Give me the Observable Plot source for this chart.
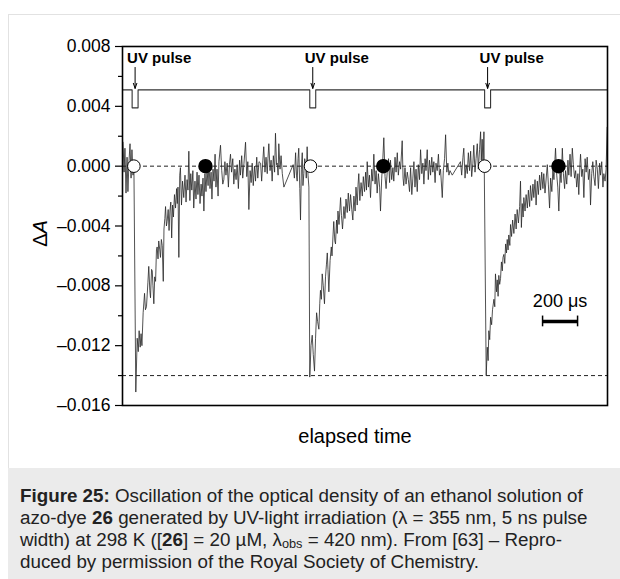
<!DOCTYPE html>
<html><head><meta charset="utf-8">
<script src="https://cdn.jsdelivr.net/npm/d3@7"></script>
<script src="https://cdn.jsdelivr.net/npm/@observablehq/plot@0.6"></script>
<style>
body{margin:0;background:#fff;font-family:"Liberation Sans",Arial,sans-serif;}
#wrap{position:relative;width:620px;height:579px;overflow:hidden;}
#border{position:absolute;left:8px;top:14px;width:612px;height:454px;border-left:1px solid #e2e2e2;border-top:1px solid #e2e2e2;box-sizing:border-box;}
#chart{position:absolute;left:0;top:0;}
#caption{position:absolute;left:8px;top:468px;width:612px;height:111px;background:#ebebeb;box-sizing:border-box;padding:17px 0 0 12px;font-size:18.8px;line-height:22px;color:#222;white-space:nowrap;}
#caption sub{font-size:0.68em;vertical-align:-0.18em;line-height:0;}
</style></head>
<body>
<div id="wrap"><div id="border"></div><div id="chart"></div>
<div id="caption"><b>Figure 25:</b> Oscillation of the optical density of an ethanol solution of<br>azo-dye <b>26</b> generated by UV-light irradiation (λ = 355 nm, 5 ns pulse<br>width) at 298 K ([<b>26</b>] = 20 µM, λ<sub>obs</sub> = 420 nm). From [63] – Repro-<br>duced by permission of the Royal Society of Chemistry.</div>
</div>
<script>
// Transient absorbance trace: [time (µs), ΔA × 10^-3]
const trace = [
[3,1.6],[9,-0.4],[14,1.2],[20,-1.8],[26,0.6],[31,-1.7],[37,0.3],[43,1.5],[49,-0.8],[54,1.1],[60,-0.6],[65,0.2],[76,-15.1],
[84,-11.5],[90,-12.4],[95,-11.0],[101,-12.1],[106,-11.2],[111,-12.0],[118,-9.8],[126,-8.5],[131,-9.6],[137,-9.4],[145,-7.8],[150,-6.7],[156,-8.3],[160,-8.8],[166,-6.9],[170,-7.0],[174,-8.0],[179,-9.2],[184,-7.4],[189,-7.7],[194,-5.6],[198,-5.4],[203,-6.2],[207,-5.0],[213,-5.6],[217,-6.1],[222,-4.9],[227,-5.3],[233,-7.7],[237,-4.2],[242,-3.5],[246,-2.7],[251,-4.0],[255,-3.7],[261,-2.9],[266,-4.3],[271,-3.0],[276,-2.4],[281,-4.8],[286,-2.6],[291,-3.4],[297,-1.9],[303,-2.8],[309,-1.5],[313,-2.5],[317,-1.4],[322,-6.1],[327,-0.6],[331,-0.1],[337,-2.6],[343,-1.0],[350,-2.1],[357,-0.6],[363,-2.4],[369,-0.9],[374,-1.6],[379,1.0],[385,-2.3],[390,-0.5],[396,-1.6],[402,-0.3],[407,-2.8],[414,-1.0],[420,-2.2],[426,-0.4],[431,-1.9],[437,-0.6],[443,-2.5],[449,-1.2],[454,-2.0],[460,-0.8],[465,-3.0],[471,-0.5],[477,-1.7],[483,-0.2],[489,-1.3],[494,0.4],[500,-1.5],[506,-0.4],[511,-2.2],[517,-0.2],[523,-1.0],[529,0.8],[534,-1.4],[540,-0.2],[546,-2.0],[551,0.3],[560,1.4],[567,-0.3],[573,-1.2],[579,-0.9],[585,0.3],[591,-0.6],[598,0.2],[605,-1.4],[611,0.1],[617,0.8],[623,-0.4],[630,0.5],[636,-1.2],[642,-0.2],[649,-0.9],[655,0.1],[662,-1.5],[669,0.4],[674,-0.6],[681,0.7],[687,-0.8],[694,0.2],[703,1.6],[710,-0.7],[716,0.3],[722,-2.9],[729,-0.3],[735,-1.1],[741,0.2],[747,-1.3],[754,0.0],[760,-1.0],[767,0.6],[773,-0.8],[780,0.3],[789,0.2],[795,-1.0],[802,0.4],[807,1.3],[814,-0.4],[820,0.6],[827,-0.5],[831,0.5],[836,1.5],[843,-0.3],[849,0.4],[855,-1.0],[862,0.7],[869,-0.4],[874,2.2],[880,0.1],[884,0.2],[889,-0.6],[893,1.5],[900,-0.2],[906,0.7],[913,-0.5],[922,-1.4],
[975,0.1],[982,-0.8],[989,0.9],[994,-0.6],[998,-1.0],[1003,0.5],[1007,1.2],[1013,-1.5],[1017,-3.6],[1022,-0.2],[1027,0.9],[1031,-1.3],[1036,-0.5],[1041,0.5],[1046,0.2],[1050,-0.8],[1055,1.3],[1060,-0.6],[1065,-1.4],[1070,-14.1],
[1077,-12.0],[1084,-11.3],[1090,-12.6],[1097,-13.7],[1103,-11.5],[1109,-9.8],[1115,-10.4],[1122,-10.9],[1127,-9.2],[1131,-8.3],[1136,-8.9],[1141,-7.2],[1147,-8.0],[1154,-9.2],[1160,-7.4],[1165,-6.6],[1170,-5.8],[1174,-6.9],[1179,-8.4],[1186,-6.3],[1193,-5.4],[1197,-6.0],[1203,-4.6],[1207,-3.7],[1213,-5.0],[1217,-5.2],[1223,-3.6],[1227,-4.5],[1231,-3.0],[1237,-3.9],[1246,-2.1],[1251,-3.3],[1257,-4.2],[1265,-2.7],[1271,-3.5],[1277,-2.2],[1284,-3.1],[1290,-1.8],[1297,-3.0],[1303,-1.9],[1310,-2.9],[1316,-3.6],[1322,-2.0],[1329,-3.0],[1334,-1.4],[1341,-2.6],[1346,-1.2],[1350,-0.5],[1356,-2.3],[1363,-1.1],[1370,-2.0],[1376,-0.7],[1383,-1.7],[1389,-0.4],[1394,-1.6],[1398,0.3],[1405,-1.4],[1411,-0.6],[1417,-2.1],[1424,-0.2],[1430,-1.0],[1436,0.8],[1443,-1.2],[1449,-0.3],[1455,-1.8],[1462,-0.5],[1469,-1.4],[1474,-3.0],[1481,-0.8],[1487,0.4],[1493,1.9],[1500,-0.7],[1506,-1.5],[1513,-0.3],[1520,0.5],[1526,-1.1],[1531,0.4],[1538,-0.9],[1545,-0.1],[1550,-1.0],[1557,0.6],[1563,-0.4],[1570,0.9],[1576,-0.6],[1583,0.3],[1589,-0.2],[1598,1.7],[1603,-0.8],[1607,-1.3],[1614,-0.1],[1620,-1.2],[1627,-0.4],[1633,-0.9],[1640,-1.7],[1646,-0.1],[1653,-1.9],[1659,-0.8],[1665,0.3],[1671,-1.4],[1677,-0.2],[1684,-1.7],[1690,0.1],[1697,-0.9],[1703,1.1],[1710,-0.5],[1716,0.2],[1722,-1.2],[1729,0.5],[1734,-0.3],[1741,1.1],[1747,-0.9],[1754,0.4],[1760,-0.6],[1767,0.6],[1773,-0.4],[1779,0.3],[1786,-1.1],[1791,0.2],[1798,-0.3],[1805,0.8],[1811,-0.6],[1817,-0.2],[1827,-2.1],[1833,-0.3],[1840,0.5],[1846,2.1],[1853,-0.4],[1859,0.2],[1865,-0.6],[1871,-0.3],[1884,-0.6],
[1931,0.3],[1938,-0.6],[1945,0.6],[1950,1.2],[1957,-0.8],[1963,0.1],[1970,-0.5],[1976,0.9],[1983,-0.3],[1989,1.0],[1995,-0.7],[2002,0.2],[2007,1.4],[2014,-0.4],[2020,0.5],[2027,1.5],[2033,-0.2],[2040,1.1],[2046,2.3],[2050,0.4],[2055,1.8],[2060,-0.1],[2065,2.3],[2078,-14.0],
[2084,-12.1],[2089,-13.0],[2093,-11.0],[2098,-11.6],[2103,-10.1],[2109,-10.6],[2114,-9.6],[2122,-8.9],[2127,-9.4],[2131,-7.2],[2137,-8.4],[2141,-7.6],[2146,-8.7],[2150,-7.3],[2155,-7.9],[2160,-7.5],[2165,-6.4],[2170,-7.0],[2174,-6.1],[2179,-5.9],[2184,-6.5],[2189,-5.2],[2194,-5.8],[2198,-4.9],[2203,-5.6],[2207,-4.6],[2213,-5.3],[2217,-3.9],[2223,-4.7],[2229,-3.6],[2236,-4.5],[2243,-3.2],[2249,-4.2],[2255,-2.9],[2262,-3.8],[2269,-2.7],[2274,-1.0],[2279,-4.1],[2284,-2.5],[2289,-3.4],[2293,-2.1],[2300,-3.0],[2306,-1.9],[2313,-2.8],[2319,-1.6],[2326,-2.7],[2331,-1.3],[2338,-2.3],[2345,-1.2],[2350,-2.1],[2357,-0.9],[2363,-2.6],[2370,-1.0],[2376,-1.9],[2383,-0.6],[2389,-1.6],[2395,-0.4],[2402,-1.5],[2407,-0.5],[2414,-1.8],[2427,0.1],[2433,-1.2],[2440,-2.8],[2446,-0.8],[2453,-1.7],[2459,-0.2],[2465,-0.9],[2474,1.2],[2481,-0.6],[2487,-1.4],[2493,-3.0],[2500,-0.4],[2506,-1.1],[2513,1.2],[2519,-0.5],[2526,-1.5],[2531,-0.3],[2538,-1.2],[2545,0.4],[2550,-0.6],[2557,0.8],[2563,-0.7],[2570,1.2],[2576,0.1],[2583,-0.8],[2589,-0.3],[2595,-1.4],[2602,-0.5],[2607,-1.9],[2614,0.2],[2617,0.8],[2624,-0.7],[2630,-0.2],[2636,-2.1],[2643,0.5],[2649,-0.4],[2655,0.6],[2662,-0.9],[2669,-0.2],[2674,-2.6],[2681,-0.5],[2687,0.3],[2693,-0.7],[2700,-1.3],[2706,0.4],[2713,-0.2],[2719,-1.5],[2726,0.2],[2731,-0.6],[2738,0.3],[2745,-1.4],[2750,-0.5],[2757,-1.0],[2763,-0.2],[2769,2.6]
];

const timeDomain = [0, 2771];              // µs
const yDomain = [-0.016, 0.008];
const yMajorTicks = [0.008, 0.004, 0, -0.004, -0.008, -0.012, -0.016];
const yMinorTicks = [0.006, 0.002, -0.002, -0.006, -0.010, -0.014];
const refLevels = [0, -0.014];              // dashed reference lines
const pulseStarts = [55, 1070, 2069];       // µs
const pulseWidth = 34;                      // µs
const pulseHigh = 0.0051, pulseLow = 0.0039;
const arrowFrom = 0.0066, arrowTo = 0.0052;
const pulseLabel = "UV pulse";
const pulseLabelLevel = 0.0069;
const openCircleTimes = [65, 1074, 2069];
const filledCircleTimes = [474, 1490, 2491];
const scaleBarTimes = [2400, 2600];
const scaleBarLevel = -0.01038;
const scaleBarLabel = "200 μs";

// pulse trigger trace built from pulse start times
const pulseTrace = [[timeDomain[0], pulseHigh]];
for (const s of pulseStarts) {
  pulseTrace.push([s, pulseHigh], [s, pulseLow], [s + pulseWidth, pulseLow], [s + pulseWidth, pulseHigh]);
}
pulseTrace.push([timeDomain[1], pulseHigh]);
const pulseCenters = pulseStarts.map(s => s + pulseWidth / 2);

const fmt = d => (d < 0 ? "\u2013" : "") + Math.abs(d).toFixed(3);
const font = "Liberation Sans, Arial, Helvetica, sans-serif";

const chart = Plot.plot({
  width: 620, height: 468,
  marginTop: 46, marginLeft: 122, marginRight: 13, marginBottom: 63,
  style: {fontFamily: font, fontSize: "17.5px", background: "transparent", color: "#000", overflow: "visible"},
  x: {domain: timeDomain, axis: null},
  y: {domain: yDomain, axis: null},
  marks: [
    Plot.ruleY(refLevels, {stroke: "#222", strokeWidth: 1, strokeDasharray: "4,3"}),
    Plot.line(trace, {x: d => d[0], y: d => d[1] / 1000, stroke: "#262626", strokeWidth: 0.8}),
    Plot.line(pulseTrace, {x: d => d[0], y: d => d[1], stroke: "#333", strokeWidth: 1.1}),
    Plot.arrow(pulseCenters, {x1: d => d, x2: d => d, y1: arrowFrom, y2: arrowTo, stroke: "#000", strokeWidth: 1, headLength: 8, headAngle: 38, insetEnd: 0}),
    Plot.text(pulseCenters, {x: d => d, y: pulseLabelLevel, text: () => pulseLabel, dx: -8, textAnchor: "start", lineAnchor: "bottom", fontWeight: "bold", fontSize: 15}),
    Plot.dot(openCircleTimes, {x: d => d, y: 0, r: 6.3, fill: "#fff", stroke: "#000", strokeWidth: 1}),
    Plot.dot(filledCircleTimes, {x: d => d, y: 0, r: 6.5, fill: "#000", stroke: "#000"}),
    Plot.ruleY([scaleBarLevel], {x1: scaleBarTimes[0], x2: scaleBarTimes[1], stroke: "#000", strokeWidth: 3.5}),
    Plot.ruleX(scaleBarTimes, {y1: scaleBarLevel - 0.00036, y2: scaleBarLevel + 0.00036, stroke: "#000", strokeWidth: 1.5}),
    Plot.text([scaleBarLabel], {x: (scaleBarTimes[0] + scaleBarTimes[1]) / 2, y: scaleBarLevel, dy: -14, text: d => d, fontSize: 18, lineAnchor: "bottom"}),
    Plot.axisY({ticks: yMajorTicks, tickSize: 7, tickPadding: 5, tickFormat: fmt, label: null, fontSize: 17.5, strokeWidth: 1.2}),
    Plot.axisY({ticks: yMinorTicks, tickSize: 4, tickFormat: () => "", label: null, strokeWidth: 1.2}),
    Plot.frame({stroke: "#000", strokeWidth: 1.6}),
    Plot.text(["ΔA"], {x: timeDomain[0], y: -0.0045, dx: -82, rotate: -90, text: d => d, fontSize: 20, className: "ylab"}),
    Plot.text(["elapsed time"], {frameAnchor: "bottom", dx: -10, dy: 31, lineAnchor: "middle", text: d => d, fontSize: 20})
  ]
});
document.getElementById("chart").appendChild(chart);
// italic "A" in the y-axis label
d3.select(chart).selectAll("g.ylab text").each(function() {
  const t = d3.select(this);
  t.text("");
  t.append("tspan").text("Δ");
  t.append("tspan").attr("font-style", "italic").text("A");
});
</script>
</body></html>
